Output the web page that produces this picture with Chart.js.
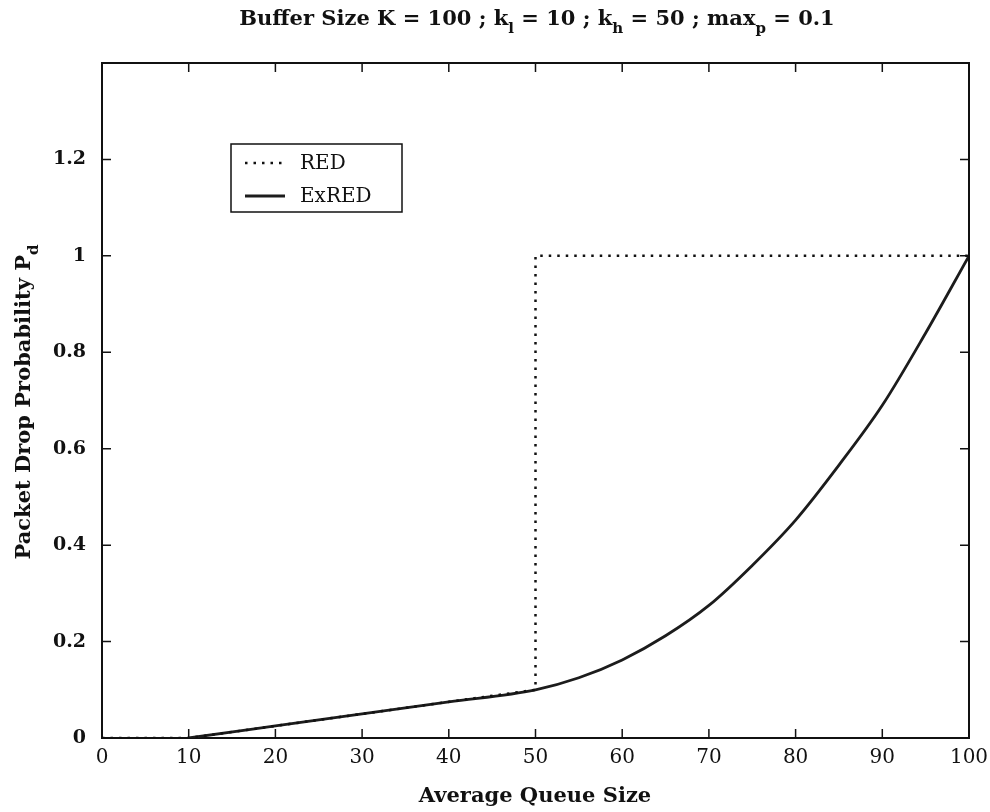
<!DOCTYPE html>
<html>
<head>
<meta charset="utf-8">
<script src="https://cdn.jsdelivr.net/npm/chart.js@4.4.0/dist/chart.umd.min.js"></script>
<style>
  html, body { margin: 0; padding: 0; background: #fff; }
  canvas { display: block; }
</style>
</head>
<body>
<canvas id="chart" width="990" height="812"></canvas>
<script>
// values
const xTicks = [0, 10, 20, 30, 40, 50, 60, 70, 80, 90, 100];
const yTicks = [0, 0.2, 0.4, 0.6, 0.8, 1, 1.2];

const redQueue = [0, 10, 50, 50, 100];
const redProb  = [0, 0, 0.1, 1, 1];

const exredQueue = [10, 20, 30, 40, 50, 55, 60, 65, 70, 75, 80, 85, 90, 95, 100];
const exredProb  = [0, 0.025, 0.05, 0.075, 0.1, 0.125, 0.162, 0.212, 0.275, 0.358, 0.452, 0.566, 0.69, 0.84, 1.0];

const SERIF = "'DejaVu Serif', 'Liberation Serif', serif";

const toPoints = (xs, ys) => xs.map((x, i) => ({ x: x, y: ys[i] }));

// draws a string made of plain and subscript pieces, centred on 0,0
function drawRich(ctx, parts, size, weight) {
    const subSize = Math.round(size * 0.72);
    let total = 0;
    parts.forEach(p => {
        ctx.font = `${weight} ${p.sub ? subSize : size}px ${SERIF}`;
        p.w = ctx.measureText(p.t).width;
        total += p.w;
    });
    let x = -total / 2;
    ctx.textBaseline = 'middle';
    ctx.textAlign = 'left';
    parts.forEach(p => {
        ctx.font = `${weight} ${p.sub ? subSize : size}px ${SERIF}`;
        ctx.fillText(p.t, x, p.sub ? size * 0.45 : 0);
        x += p.w;
    });
}

const labelsPlugin = {
    id: 'labels',
    afterDraw(chart) {
        const ctx = chart.ctx;
        const area = chart.chartArea;
        ctx.save();
        ctx.fillStyle = '#111';

        // title
        ctx.save();
        ctx.translate(537, 20);
        drawRich(ctx, [
            { t: 'Buffer Size K = 100 ; k' }, { t: 'l', sub: true },
            { t: ' = 10 ; k' }, { t: 'h', sub: true },
            { t: ' = 50 ; max' }, { t: 'p', sub: true },
            { t: ' = 0.1' }
        ], 21, 'bold');
        ctx.restore();

        // y axis title
        ctx.save();
        ctx.translate(25, 402);
        ctx.rotate(-Math.PI / 2);
        drawRich(ctx, [{ t: 'Packet Drop Probability P' }, { t: 'd', sub: true }], 21, 'bold');
        ctx.restore();

        // x axis title
        ctx.save();
        ctx.translate(535, 797);
        drawRich(ctx, [{ t: 'Average Queue Size' }], 21, 'bold');
        ctx.restore();

        // box on top and right
        ctx.strokeStyle = '#111';
        ctx.lineWidth = 2;
        ctx.beginPath();
        ctx.moveTo(area.left, area.top);
        ctx.lineTo(area.right, area.top);
        ctx.lineTo(area.right, area.bottom);
        ctx.stroke();

        // inward tick marks on all four sides
        const xs = chart.scales.x, ys = chart.scales.y;
        const len = 9;
        ctx.lineWidth = 1.5;
        ctx.beginPath();
        xTicks.forEach(v => {
            const px = xs.getPixelForValue(v);
            ctx.moveTo(px, area.bottom); ctx.lineTo(px, area.bottom - len);
            ctx.moveTo(px, area.top); ctx.lineTo(px, area.top + len);
        });
        yTicks.forEach(v => {
            const py = ys.getPixelForValue(v);
            ctx.moveTo(area.left, py); ctx.lineTo(area.left + len, py);
            ctx.moveTo(area.right, py); ctx.lineTo(area.right - len, py);
        });
        ctx.stroke();

        // legend box
        const bx = 231, by = 144, bw = 171, bh = 68;
        ctx.lineWidth = 1.5;
        ctx.strokeRect(bx, by, bw, bh);
        chart.data.datasets.forEach((ds, i) => {
            const ly = by + 19 + i * 33;
            ctx.save();
            ctx.strokeStyle = ds.borderColor;
            ctx.lineWidth = ds.borderWidth;
            ctx.setLineDash(ds.borderDash || []);
            ctx.beginPath();
            ctx.moveTo(bx + 14, ly);
            ctx.lineTo(bx + 54, ly);
            ctx.stroke();
            ctx.restore();
            ctx.font = `20px ${SERIF}`;
            ctx.textAlign = 'left';
            ctx.textBaseline = 'middle';
            ctx.fillText(ds.label, bx + 69, ly + 1);
        });
        ctx.restore();
    }
};

new Chart(document.getElementById('chart'), {
    type: 'line',
    data: {
        datasets: [{
            label: 'RED',
            data: toPoints(redQueue, redProb),
            borderColor: '#111',
            borderWidth: 2.5,
            borderDash: [2.5, 6],
            pointRadius: 0,
            tension: 0,
            fill: false
        }, {
            label: 'ExRED',
            data: toPoints(exredQueue, exredProb),
            borderColor: '#1c1c1c',
            borderWidth: 2.8,
            pointRadius: 0,
            cubicInterpolationMode: 'monotone',
            fill: false
        }]
    },
    options: {
        responsive: false,
        animation: false,
        devicePixelRatio: 1,
        layout: { padding: { left: 0, top: 63, right: 21, bottom: 0 } },
        plugins: {
            legend: { display: false },
            tooltip: { enabled: false }
        },
        scales: {
            x: {
                type: 'linear',
                min: 0,
                max: 100,
                afterBuildTicks: s => { s.ticks = xTicks.map(v => ({ value: v })); },
                afterFit: s => { s.height = 74; s.paddingLeft = 0; s.paddingRight = 0; },
                grid: { display: false, drawTicks: false },
                border: { display: true, color: '#111', width: 2 },
                ticks: {
                    color: '#111',
                    padding: 8,
                    font: { family: SERIF, size: 20 }
                }
            },
            y: {
                type: 'linear',
                min: 0,
                max: 1.4,
                afterBuildTicks: s => { s.ticks = yTicks.map(v => ({ value: v })); },
                afterFit: s => { s.width = 102; s.paddingTop = 0; s.paddingBottom = 0; },
                grid: { display: false, drawTicks: false },
                border: { display: true, color: '#111', width: 2 },
                ticks: {
                    color: '#111',
                    padding: 16,
                    font: { family: SERIF, size: 19, weight: 'bold' },
                    callback: v => String(Math.round(v * 10) / 10)
                }
            }
        }
    },
    plugins: [labelsPlugin]
});
</script>
</body>
</html>
